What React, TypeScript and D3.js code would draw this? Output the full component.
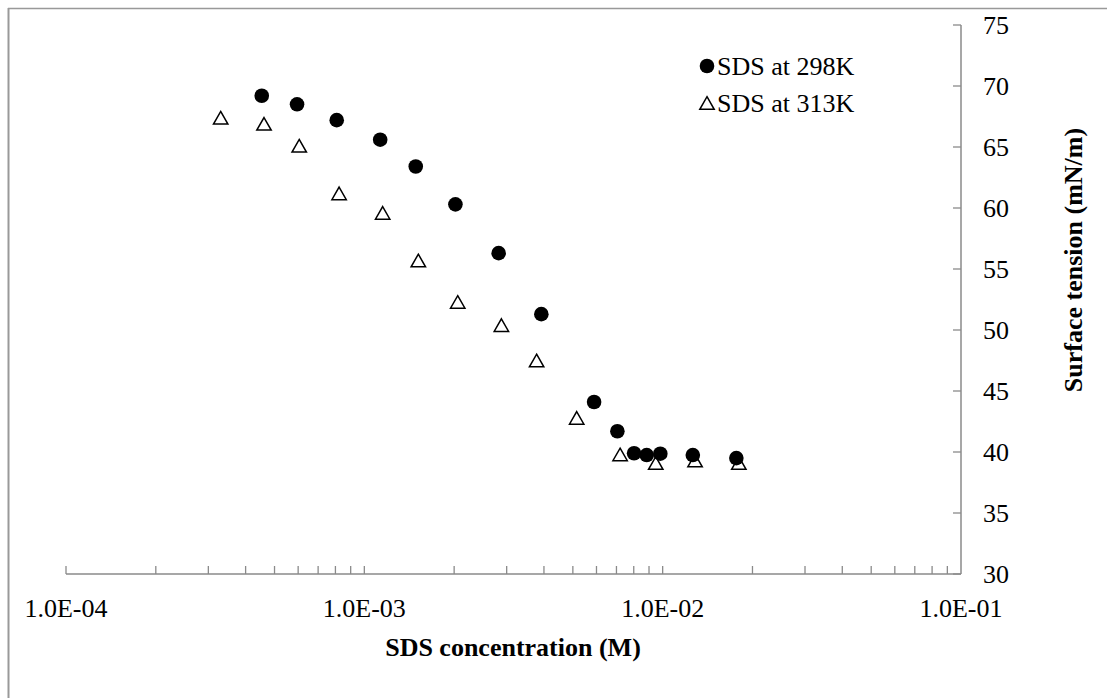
import React from "react";
import * as d3 from "d3";

const conc298 = [4.53e-4, 5.95e-4, 8.08e-4, 1.13e-3, 1.487e-3, 2.02e-3, 2.82e-3, 3.92e-3, 5.89e-3, 7.05e-3, 8.02e-3, 8.84e-3, 9.82e-3, 1.262e-2, 1.766e-2];
const st298 = [69.2, 68.5, 67.2, 65.6, 63.4, 60.3, 56.3, 51.3, 44.1, 41.7, 39.9, 39.75, 39.86, 39.75, 39.5];
const conc313 = [3.3e-4, 4.61e-4, 6.05e-4, 8.23e-4, 1.152e-3, 1.517e-3, 2.056e-3, 2.88e-3, 3.78e-3, 5.15e-3, 7.2e-3, 9.48e-3, 1.284e-2, 1.8e-2];
const st313 = [67.4, 66.9, 65.1, 61.2, 59.6, 55.7, 52.3, 50.4, 47.5, 42.8, 39.8, 39.1, 39.3, 39.1];
const xTickValues = [1e-4, 1e-3, 1e-2, 1e-1];
const xTickLabels = ["1.0E-04", "1.0E-03", "1.0E-02", "1.0E-01"];
const yTickValues = [30, 35, 40, 45, 50, 55, 60, 65, 70, 75];
const seriesNames = ["SDS at 298K", "SDS at 313K"];
const xTitle = "SDS concentration (M)";
const yTitle = "Surface tension (mN/m)";

const FONT = "'Liberation Serif', 'Times New Roman', serif";
const AXIS = "#8a8a8a";

export default function App() {
  const x = d3.scaleLog().domain([1e-4, 1e-1]).range([66, 961]);
  const y = d3.scaleLinear().domain([30, 75]).range([574, 25]);
  const minor: number[] = [];
  for (let e = -4; e < -1; e++) {
    for (let m = 1; m <= 9; m++) minor.push(m * Math.pow(10, e));
  }
  const triPath = (cx: number, cy: number) => {
    const s = 7.2;
    const h = 12.6;
    return `M${cx},${cy - h / 2}L${cx + s},${cy + h / 2}L${cx - s},${cy + h / 2}Z`;
  };
  const fs = 26;
  return (
    <svg width={1107} height={698} style={{ position: "absolute", left: 0, top: 0, display: "block" }}>
      <rect x={0} y={0} width={1107} height={698} fill="#fff" />
      <line x1={8} y1={8.5} x2={1107} y2={8.5} stroke="#999" strokeWidth={1.5} />
      <line x1={8.5} y1={8} x2={8.5} y2={698} stroke="#999" strokeWidth={2} />
      {/* x axis */}
      <line x1={x(1e-4)} y1={y(30)} x2={x(1e-1)} y2={y(30)} stroke={AXIS} strokeWidth={1.5} />
      {minor.map((v, i) => (
        <line key={"mx" + i} x1={x(v)} x2={x(v)} y1={y(30)} y2={y(30) - 8} stroke={AXIS} strokeWidth={1.3} />
      ))}
      {xTickValues.map((v, i) => (
        <text key={"xt" + i} x={x(v)} y={617} textAnchor="middle" fontFamily={FONT} fontSize={fs} fill="#000">
          {xTickLabels[i]}
        </text>
      ))}
      {/* y axis */}
      <line x1={x(1e-1)} y1={y(30)} x2={x(1e-1)} y2={y(75)} stroke={AXIS} strokeWidth={1.5} />
      {yTickValues.map((v, i) => (
        <g key={"yt" + i}>
          <line x1={x(1e-1) - 8} x2={x(1e-1)} y1={y(v)} y2={y(v)} stroke={AXIS} strokeWidth={1.3} />
          <text x={983} y={y(v)} dy="0.35em" fontFamily={FONT} fontSize={fs} fill="#000">
            {v}
          </text>
        </g>
      ))}
      <text x={513} y={656} textAnchor="middle" fontFamily={FONT} fontSize={fs} fontWeight="bold" fill="#000">
        {xTitle}
      </text>
      <text transform="translate(1082,260) rotate(-90)" textAnchor="middle" fontFamily={FONT} fontSize={fs} fontWeight="bold" fill="#000">
        {yTitle}
      </text>
      {/* series 313K triangles */}
      {conc313.map((c, i) => (
        <path key={"t" + i} d={triPath(x(c), y(st313[i]))} fill="#fff" stroke="#000" strokeWidth={1.5} />
      ))}
      {/* series 298K circles */}
      {conc298.map((c, i) => (
        <circle key={"c" + i} cx={x(c)} cy={y(st298[i])} r={7.3} fill="#000" />
      ))}
      {/* legend */}
      <circle cx={707} cy={66} r={7.3} fill="#000" />
      <text x={717} y={66} dy="0.35em" fontFamily={FONT} fontSize={fs} fill="#000">{seriesNames[0]}</text>
      <path d={triPath(707, 103)} fill="#fff" stroke="#000" strokeWidth={1.5} />
      <text x={717} y={103} dy="0.35em" fontFamily={FONT} fontSize={fs} fill="#000">{seriesNames[1]}</text>
    </svg>
  );
}
